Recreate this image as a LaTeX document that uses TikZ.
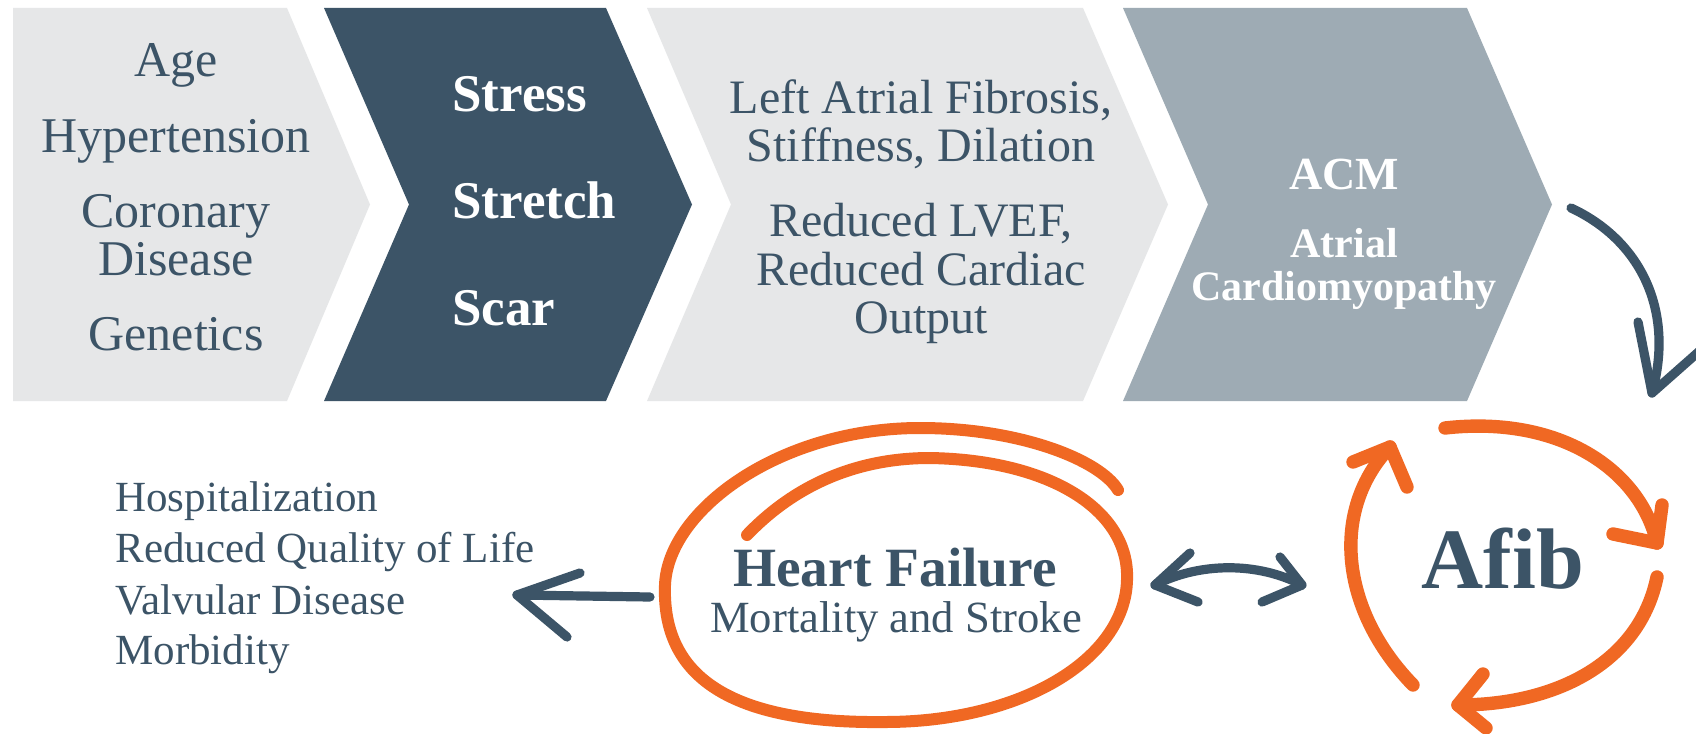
\documentclass[tikz,border=0pt]{standalone}
\usepackage{fontspec}
\setmainfont{Liberation Serif}
\definecolor{navy}{HTML}{3C5467}
\definecolor{lgray}{HTML}{E6E7E8}
\definecolor{mgray}{HTML}{9EABB4}
\definecolor{orng}{HTML}{F06823}
\tikzset{
  lbl/.style={inner sep=0pt, anchor=base},
  c1txt/.style={lbl, text=navy, font=\fontsize{25}{30}\selectfont},
  c2txt/.style={lbl, anchor=base west, text=white, font=\bfseries\fontsize{26.5}{30}\selectfont},
  c3txt/.style={lbl, text=navy, font=\fontsize{24}{29}\selectfont},
  c4txt/.style={lbl, text=white, font=\bfseries\fontsize{21}{25}\selectfont},
  listtxt/.style={lbl, anchor=base west, text=navy, font=\fontsize{21.5}{26}\selectfont},
  darr/.style={draw=navy, line width=4.6pt, line cap=round, line join=round},
  oarr/.style={draw=orng, line width=6.7pt, line cap=round, line join=round},
  oloop/.style={draw=orng, line width=6pt, line cap=round, line join=round},
}
\begin{document}
\begin{tikzpicture}[x=0.5pt,y=-0.5pt]
\clip (0,0) rectangle (1696,733);
\fill[white] (0,0) rectangle (1696,733);

% chevrons
\fill[lgray] (13,8) -- (287,8) -- (370,204.5) -- (287,401) -- (13,401) -- cycle;
\fill[navy] (324,8) -- (606,8) -- (692,204.5) -- (606,401) -- (324,401) -- (409,204.5) -- cycle;
\fill[lgray] (647,8) -- (1083,8) -- (1168,204.5) -- (1083,401) -- (647,401) -- (731,204.5) -- cycle;
\fill[mgray] (1123,8) -- (1467,8) -- (1552,204.5) -- (1467,401) -- (1123,401) -- (1208,204.5) -- cycle;

% chevron 1 text
\node[c1txt] (age) at (176,77) {Age};
\node[c1txt] (hyp) at (176,152) {Hypertension};
\node[c1txt] (cor) at (176,227) {Coronary};
\node[c1txt] (dis) at (176,275) {Disease};
\node[c1txt] (gen) at (176,350) {Genetics};

% chevron 2 text
\node[c2txt] (stress) at (452,112) {Stress};
\node[c2txt] (stretch) at (452,218) {Stretch};
\node[c2txt] (scar) at (452,325) {Scar};

% chevron 3 text
\node[c3txt] (laf) at (921,113) {Left Atrial Fibrosis,};
\node[c3txt] (sdi) at (921,162) {Stiffness, Dilation};
\node[c3txt] (rlv) at (921,236) {Reduced LVEF,};
\node[c3txt] (rcd) at (921,285) {Reduced Cardiac};
\node[c3txt] (out) at (921,333) {Output};

% chevron 4 text
\node[c4txt, font=\bfseries\fontsize{23}{27}\selectfont] (acm) at (1344,189) {ACM};
\node[c4txt] (atr) at (1344,257) {Atrial};
\node[c4txt] (cmp) at (1344,300) {Cardiomyopathy};

% list
\node[listtxt] (hosp) at (115,511) {Hospitalization};
\node[listtxt] (rql) at (115,562) {Reduced Quality of Life};
\node[listtxt] (vd) at (115,614) {Valvular Disease};
\node[listtxt] (morb) at (115,664) {Morbidity};

% heart failure
\node[lbl, text=navy, font=\bfseries\fontsize{27.7}{32}\selectfont] (hf) at (895,586) {Heart Failure};
\node[lbl, text=navy, font=\fontsize{22.3}{27}\selectfont] (mas) at (896,632) {Mortality and Stroke};

% Afib
\node[lbl, text=navy, font=\bfseries\fontsize{43}{50}\selectfont] (afib) at (1503,588) {Afib};

% loop around heart failure
\draw[oloop] (747,535) .. controls (790,490) and (850,458) .. (930,458)
  .. controls (1050,460) and (1130,510) .. (1127,580)
  .. controls (1125,660) and (1020,722) .. (885,722)
  .. controls (720,724) and (662,670) .. (665,585)
  .. controls (668,510) and (780,428) .. (920,428)
  .. controls (1020,428) and (1100,460) .. (1118,490);

% left arrow
\coordinate (lS) at (650,597);
\coordinate (lT) at (517,595);
\draw[darr] (lS) -- (lT);
\draw[darr] (580,573) -- (lT) -- (567,637);

% double arrow
\coordinate (dL) at (1155,585);
\coordinate (dR) at (1302,585);
\draw[darr] (dL) .. controls (1200,562) and (1258,562) .. (dR);
\draw[darr] (1190,553) -- (dL) -- (1198,602);
\draw[darr] (1280,557) -- (dR) -- (1262,602);

% dark arrow from ACM to Afib
\coordinate (kS) at (1571,208);
\coordinate (kT) at (1652,393);
\draw[darr] (kS) .. controls (1640,240) and (1675,310) .. (kT);
\draw[darr] (1638,322) -- (kT) -- (1712,340);

% orange cycle arrows
\coordinate (o1S) at (1445,428);
\coordinate (o1T) at (1657,543);
\draw[oarr] (o1S) .. controls (1560,415) and (1640,470) .. (o1T);
\draw[oarr] (1662,505) -- (o1T) -- (1613,534);

\coordinate (o2S) at (1657,577);
\coordinate (o2T) at (1458,705);
\draw[oarr] (o2S) .. controls (1640,660) and (1560,705) .. (o2T);
\draw[oarr] (1483,674) -- (o2T) -- (1486,728);

\coordinate (o3S) at (1413,685);
\coordinate (o3T) at (1390,447);
\draw[oarr] (o3S) .. controls (1340,610) and (1330,510) .. (o3T);
\draw[oarr] (1353,462) -- (o3T) -- (1407,487);
\end{tikzpicture}
\end{document}
